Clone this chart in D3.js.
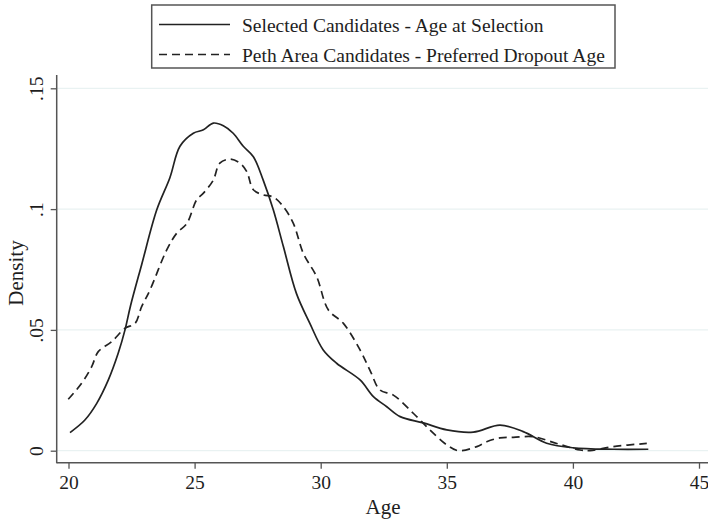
<!DOCTYPE html>
<html>
<head>
<meta charset="utf-8">
<script src="https://cdn.jsdelivr.net/npm/d3@7"></script>
<style>
  body { margin: 0; background: #fff; }
  text { font-family: "Liberation Serif", "Times New Roman", serif; fill: #1e1e1e; }
</style>
</head>
<body>
<div id="chart-area"></div>
<script>
/*
*    kernel density - age
*/

var selAge = [20.06, 20.65, 21.12, 21.58, 21.97, 22.24, 22.46, 22.9, 23.5, 24.02, 24.42, 24.95, 25.35, 25.74, 26.14,
              26.53, 26.93, 27.33, 27.72, 28.12, 28.52, 29.04, 29.57, 30.1, 30.63, 31.56, 32.09, 32.62, 33.15, 34.07,
              35.0, 36.05, 37.11, 38.03, 38.96, 40.01, 41.6, 42.99];
var selDensity = [0.0075, 0.0127, 0.0196, 0.0293, 0.0403, 0.050, 0.060, 0.077, 0.0997, 0.113, 0.126, 0.1314, 0.1328,
                  0.1356, 0.1345, 0.1314, 0.126, 0.1217, 0.112, 0.0997, 0.0845, 0.065, 0.0527, 0.0417, 0.0362, 0.0293,
                  0.0224, 0.0182, 0.0141, 0.0115, 0.0086, 0.0077, 0.0106, 0.0079, 0.0031, 0.0012, 0.0006, 0.0006];

var pethAge = [19.99, 20.52, 20.92, 21.18, 21.71, 22.24, 22.64, 22.9, 23.23, 23.89, 24.29, 24.69, 25.08, 25.35, 25.74, 26.0,
               26.4, 26.8, 27.07, 27.33, 27.72, 28.12, 28.52, 28.92, 29.31, 29.84, 30.3, 30.9, 31.56, 31.95, 32.35, 32.88,
               33.67, 34.33, 35.0, 35.46, 36.19, 36.58, 37.11, 37.64, 38.43, 39.36, 40.28, 40.68, 41.6, 42.93];
var pethDensity = [0.0213, 0.0279, 0.0348, 0.041, 0.0451, 0.0507, 0.0527, 0.0596, 0.0665, 0.083, 0.090, 0.094, 0.1038, 0.1066,
                   0.112, 0.119, 0.1207, 0.119, 0.1155, 0.108, 0.1059, 0.105, 0.101, 0.094, 0.0817, 0.072, 0.0583, 0.0527,
                   0.0417, 0.0334, 0.0251, 0.023, 0.0155, 0.0086, 0.0024, 0.0, 0.0017, 0.0037, 0.0053, 0.0055, 0.0058,
                   0.003, 0.0003, 0.0, 0.0017, 0.003];

var xTicks = [20, 25, 30, 35, 40, 45];
var yTicks = [0, 0.05, 0.1, 0.15];
var yTickLabels = ["0", ".05", ".1", ".15"];
var legendLabels = ["Selected Candidates - Age at Selection", "Peth Area Candidates - Preferred Dropout Age"];

var width = 708;
var height = 519;
var axisX = 56.7;   // y axis line position
var axisY = 462.7;  // x axis line position

var svg = d3.select("#chart-area").append("svg")
            .attr("width", width)
            .attr("height", height);

var x = d3.scaleLinear()
          .domain([20, 45])
          .range([68.5, 699]);

var y = d3.scaleLinear()
          .domain([0, 0.15])
          .range([450.7, 88.3]);

// grid
svg.selectAll("line.grid")
   .data(yTicks)
   .enter()
   .append("line")
     .attr("class", "grid")
     .attr("x1", axisX)
     .attr("x2", width)
     .attr("y1", (d) => { return y(d); })
     .attr("y2", (d) => { return y(d); })
     .attr("stroke", "#e9f2f2")
     .attr("stroke-width", 1.2);

// axes
var bottomAxis = d3.axisBottom(x)
                   .tickValues(xTicks)
                   .tickSize(6)
                   .tickPadding(6)
                   .tickFormat(d3.format("d"));
var gx = svg.append("g")
            .attr("class", "bottom axis")
            .attr("transform", "translate(0, " + axisY + ")")
            .call(bottomAxis);
gx.select(".domain").remove();
gx.selectAll("line").attr("stroke", "#555").attr("stroke-width", 1.3);
gx.selectAll("text")
  .attr("font-size", "19.5px")
  .attr("fill", "#1e1e1e")
  .attr("font-family", "Liberation Serif");

var leftAxis = d3.axisLeft(y)
                 .tickValues(yTicks)
                 .tickSize(6)
                 .tickFormat((d, i) => { return yTickLabels[i]; });
var gy = svg.append("g")
            .attr("class", "left axis")
            .attr("transform", "translate(" + axisX + ", 0)")
            .call(leftAxis);
gy.select(".domain").remove();
gy.selectAll("line").attr("stroke", "#555").attr("stroke-width", 1.3);
gy.selectAll("text")
  .attr("font-size", "19.5px")
  .attr("fill", "#1e1e1e")
  .attr("font-family", "Liberation Serif")
  .attr("text-anchor", "middle")
  .attr("x", 0)
  .attr("dy", 0)
  .attr("transform", "translate(-14, 0) rotate(-90)");

svg.append("line")
   .attr("x1", axisX).attr("x2", axisX)
   .attr("y1", 75).attr("y2", axisY + 0.6)
   .attr("stroke", "#555").attr("stroke-width", 1.5);
svg.append("line")
   .attr("x1", axisX).attr("x2", width)
   .attr("y1", axisY).attr("y2", axisY)
   .attr("stroke", "#555").attr("stroke-width", 1.5);

// curves
var line = d3.line()
             .x((d) => { return x(d[0]); })
             .y((d) => { return y(d[1]); })
             .curve(d3.curveCatmullRom);

svg.append("path")
   .datum(d3.zip(selAge, selDensity))
   .attr("d", line)
   .attr("fill", "none")
   .attr("stroke", "#222")
   .attr("stroke-width", 1.7);

svg.append("path")
   .datum(d3.zip(pethAge, pethDensity))
   .attr("d", line)
   .attr("fill", "none")
   .attr("stroke", "#222")
   .attr("stroke-width", 1.7)
   .attr("stroke-dasharray", "8,5");

// axis labels
svg.append("text")
   .attr("x", 383)
   .attr("y", 514)
   .attr("font-size", "21px")
   .attr("text-anchor", "middle")
   .text("Age");

svg.append("text")
   .attr("transform", "translate(23, 273) rotate(-90)")
   .attr("font-size", "21px")
   .attr("text-anchor", "middle")
   .text("Density");

// legend
var legend = svg.append("g").attr("class", "legend");
legend.append("rect")
      .attr("x", 151.7)
      .attr("y", 5)
      .attr("width", 463.3)
      .attr("height", 63)
      .attr("fill", "#fff")
      .attr("stroke", "#555")
      .attr("stroke-width", 1.5);

legendLabels.forEach((lab, i) => {
  var ly = 24.5 + i * 30;
  legend.append("line")
        .attr("x1", 159).attr("x2", 230)
        .attr("y1", ly).attr("y2", ly)
        .attr("stroke", "#222")
        .attr("stroke-width", 1.7)
        .attr("stroke-dasharray", i == 1 ? "8,5" : null);
  legend.append("text")
        .attr("x", 242)
        .attr("y", ly + 7)
        .attr("font-size", "19.5px")
        .text(lab);
});
</script>
</body>
</html>
